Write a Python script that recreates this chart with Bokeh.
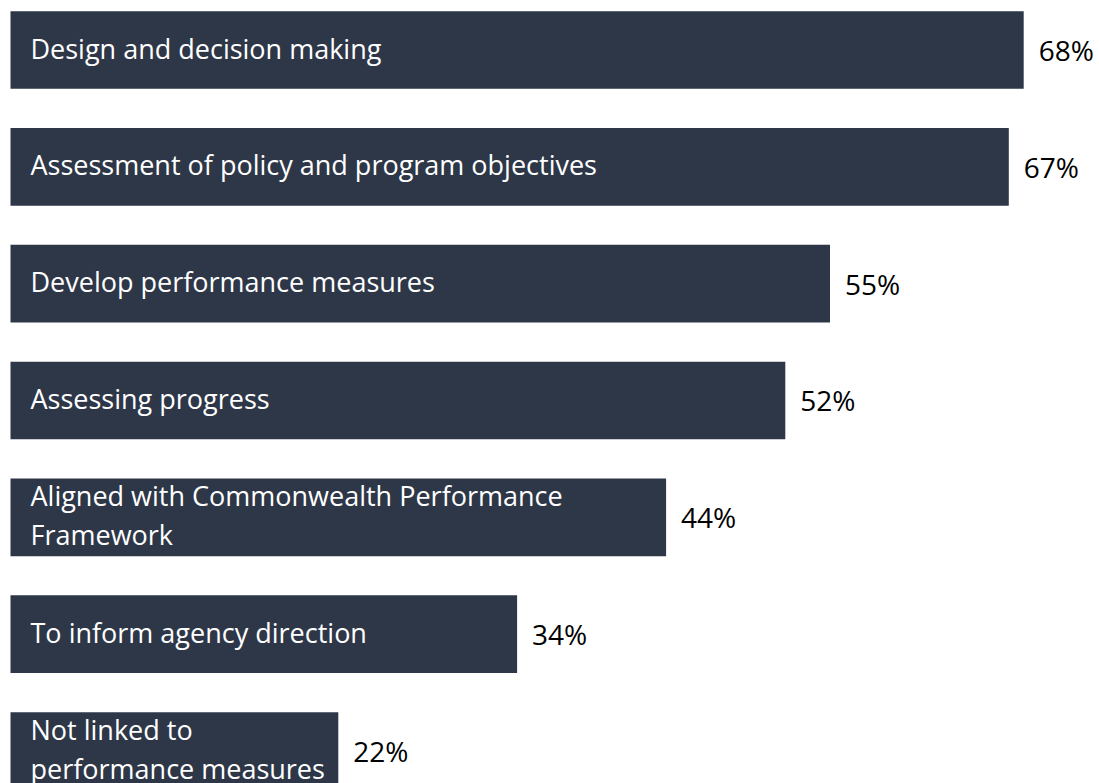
from bokeh.plotting import figure
from bokeh.models import ColumnDataSource, Range1d
from bokeh.core.properties import value
from bokeh.embed import file_html
from bokeh.resources import INLINE

categories = [
    "Design and decision making",
    "Assessment of policy and program objectives",
    "Develop performance measures",
    "Assessing progress",
    "Aligned with Commonwealth Performance\nFramework",
    "To inform agency direction",
    "Not linked to\nperformance measures",
]
values = [68, 67, 55, 52, 44, 34, 22]
value_labels = ["68%", "67%", "55%", "52%", "44%", "34%", "22%"]

positions = [-i for i in range(len(categories))]

src = ColumnDataSource(dict(cat=categories, val=values, lab=value_labels, y=positions))

W, H = 1099, 783
px_per_unit = 14.9
x0 = -10.0 / px_per_unit
x1 = x0 + W / px_per_unit
spacing = 116.83
top_c = 49.5
y_top = -((0 - top_c) / spacing)
y_bot = -((783 - top_c) / spacing)

p = figure(width=W, height=H, output_backend="svg", toolbar_location=None,
           x_range=Range1d(x0, x1), y_range=Range1d(y_bot, y_top),
           min_border=0, min_border_left=0, min_border_right=0,
           min_border_top=0, min_border_bottom=0)
p.axis.visible = False
p.grid.visible = False
p.outline_line_color = None
p.background_fill_color = "white"
p.border_fill_color = "white"

p.hbar(y="y", left=0, right="val", height=0.665, source=src,
       fill_color="#2E3748", line_color=None)

p.text(x=0, y="y", text="cat", source=src, x_offset=20, y_offset=-2,
       text_font=value("Open Sans"), text_font_size="27px",
       text_color="white", text_align="left", text_baseline="middle",
       text_line_height=1.05)

p.text(x="val", y="y", text="lab", source=src, x_offset=15,
       text_font=value("Open Sans"), text_font_size="28px",
       text_color="black", text_align="left", text_baseline="middle")

open("out.html", "w").write(file_html(p, INLINE))
